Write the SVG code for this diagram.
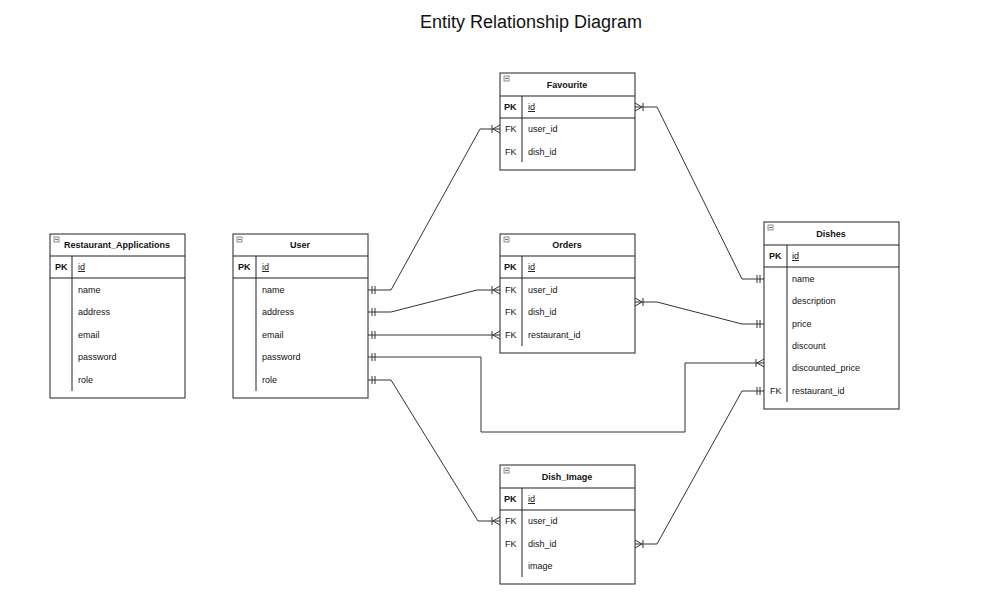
<svg xmlns="http://www.w3.org/2000/svg" width="1005" height="612" viewBox="0 0 1005 612">
<style>
.bg{fill:#fff}
.box{fill:#fff;stroke:#222;stroke-width:1}
.ln{stroke:#222;stroke-width:1;fill:none}
.t{font-family:"Liberation Sans",Arial,sans-serif;font-size:9px;fill:#111}
.h{font-weight:bold;text-anchor:middle}
.pk{font-weight:bold}
.u{text-decoration:underline}
.icon{fill:#f4f4f4;stroke:#777;stroke-width:0.8}
.c{stroke:#333;stroke-width:1;fill:none}
.title{font-family:"Liberation Sans",Arial,sans-serif;font-size:18px;fill:#111;text-anchor:middle}
</style>
<defs>
<marker id="one" markerUnits="userSpaceOnUse" markerWidth="12" markerHeight="12" viewBox="-10 -6 12 12" refX="0" refY="0" orient="auto-start-reverse" overflow="visible">
<path d="M-4,-4V4M-7,-4V4" stroke="#333" stroke-width="1" fill="none"/>
</marker>
<marker id="many" markerUnits="userSpaceOnUse" markerWidth="12" markerHeight="12" viewBox="-10 -6 12 12" refX="0" refY="0" orient="auto-start-reverse" overflow="visible">
<path d="M0,-4L-7,0L0,4M-8,-4V4" stroke="#333" stroke-width="1" fill="none"/>
</marker>
<g id="ico"><rect class="icon" x="0" y="0" width="5" height="5"/><path d="M1,2.5H4" stroke="#555" stroke-width="0.8"/></g>
</defs>
<rect class="bg" x="0" y="0" width="1005" height="612"/>
<text class="title" x="531" y="28">Entity Relationship Diagram</text>

<g id="connectors">
<path class="c" d="M368,290H391L480,129H500" marker-start="url(#one)" marker-end="url(#many)"/>
<path class="c" d="M368,312H391L477,290H500" marker-start="url(#one)" marker-end="url(#many)"/>
<path class="c" d="M368,335H500" marker-start="url(#one)" marker-end="url(#many)"/>
<path class="c" d="M368,357H481V432H685V363H764" marker-start="url(#one)" marker-end="url(#many)"/>
<path class="c" d="M368,380H391L478,521H500" marker-start="url(#one)" marker-end="url(#many)"/>
<path class="c" d="M635,107H657L742,279H764" marker-start="url(#many)" marker-end="url(#one)"/>
<path class="c" d="M635,302H657L742,324H764" marker-start="url(#many)" marker-end="url(#one)"/>
<path class="c" d="M635,544H657L742,391H764" marker-start="url(#many)" marker-end="url(#one)"/>
</g>

<g id="restaurant_applications">
<rect class="box" x="50" y="234" width="135" height="164"/>
<use href="#ico" x="54" y="237"/>
<path class="ln" d="M50,256H185M50,278H185M72,256V391"/>
<text class="t h" x="117" y="248">Restaurant_Applications</text>
<text class="t pk" x="55" y="270">PK</text>
<text class="t u" x="78" y="270">id</text>
<text class="t" x="78" y="293">name</text>
<text class="t" x="78" y="315">address</text>
<text class="t" x="78" y="338">email</text>
<text class="t" x="78" y="360">password</text>
<text class="t" x="78" y="383">role</text>
</g>

<g id="user">
<rect class="box" x="233" y="234" width="135" height="164"/>
<use href="#ico" x="237" y="237"/>
<path class="ln" d="M233,256H368M233,278H368M256,256V391"/>
<text class="t h" x="300" y="248">User</text>
<text class="t pk" x="238" y="270">PK</text>
<text class="t u" x="262" y="270">id</text>
<text class="t" x="262" y="293">name</text>
<text class="t" x="262" y="315">address</text>
<text class="t" x="262" y="338">email</text>
<text class="t" x="262" y="360">password</text>
<text class="t" x="262" y="383">role</text>
</g>

<g id="favourite">
<rect class="box" x="500" y="73" width="135" height="97"/>
<use href="#ico" x="504" y="76"/>
<path class="ln" d="M500,96H635M500,118H635M522,96V162"/>
<text class="t h" x="567" y="88">Favourite</text>
<text class="t pk" x="504" y="110">PK</text>
<text class="t u" x="528" y="110">id</text>
<text class="t" x="505" y="132">FK</text>
<text class="t" x="528" y="132">user_id</text>
<text class="t" x="505" y="155">FK</text>
<text class="t" x="528" y="155">dish_id</text>
</g>

<g id="orders">
<rect class="box" x="500" y="234" width="135" height="119"/>
<use href="#ico" x="504" y="237"/>
<path class="ln" d="M500,256H635M500,278H635M522,256V346"/>
<text class="t h" x="567" y="248">Orders</text>
<text class="t pk" x="504" y="270">PK</text>
<text class="t u" x="528" y="270">id</text>
<text class="t" x="505" y="293">FK</text>
<text class="t" x="528" y="293">user_id</text>
<text class="t" x="505" y="315">FK</text>
<text class="t" x="528" y="315">dish_id</text>
<text class="t" x="505" y="338">FK</text>
<text class="t" x="528" y="338">restaurant_id</text>
</g>

<g id="dishes">
<rect class="box" x="764" y="222" width="135" height="187"/>
<use href="#ico" x="768" y="225"/>
<path class="ln" d="M764,245H899M764,267H899M787,245V402"/>
<text class="t h" x="831" y="237">Dishes</text>
<text class="t pk" x="769" y="259">PK</text>
<text class="t u" x="792" y="259">id</text>
<text class="t" x="792" y="282">name</text>
<text class="t" x="792" y="304">description</text>
<text class="t" x="792" y="327">price</text>
<text class="t" x="792" y="349">discount</text>
<text class="t" x="792" y="371">discounted_price</text>
<text class="t" x="770" y="394">FK</text>
<text class="t" x="792" y="394">restaurant_id</text>
</g>

<g id="dish_image">
<rect class="box" x="500" y="465" width="135" height="119"/>
<use href="#ico" x="504" y="468"/>
<path class="ln" d="M500,488H635M500,510H635M522,488V577"/>
<text class="t h" x="567" y="480">Dish_Image</text>
<text class="t pk" x="504" y="502">PK</text>
<text class="t u" x="528" y="502">id</text>
<text class="t" x="505" y="524">FK</text>
<text class="t" x="528" y="524">user_id</text>
<text class="t" x="505" y="547">FK</text>
<text class="t" x="528" y="547">dish_id</text>
<text class="t" x="528" y="569">image</text>
</g>
</svg>
